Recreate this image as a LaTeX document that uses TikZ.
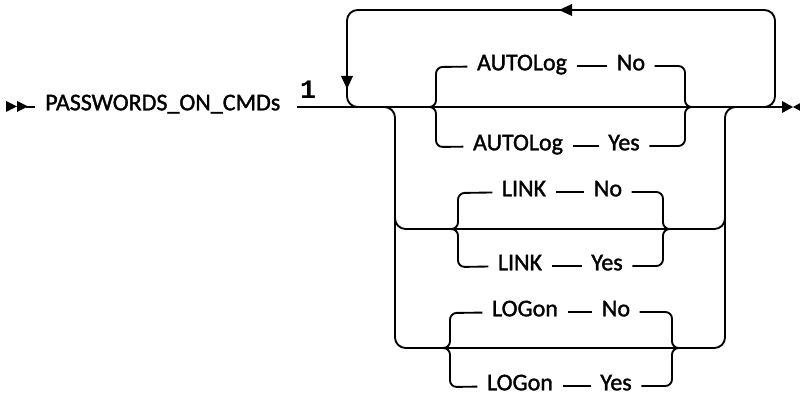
\documentclass[tikz,border=0pt]{standalone}
\usepackage{fontspec}
\setmainfont{Carlito}[RawFeature={embolden=1.4}]
\newfontfamily\monofnt{Liberation Mono}
\begin{document}
\begin{tikzpicture}[x=0.75pt,y=-0.75pt,
  ln/.style={line width=1.4pt},
  rr/.style={line width=1.4pt, rounded corners=5pt},
  rl/.style={line width=1.4pt, rounded corners=8pt},
  kw/.style={font=\fontsize{18}{21}\selectfont, inner xsep=7pt, inner ysep=0pt,
             text height=0.644em, text depth=0pt, anchor=center},
  arr/.style={fill=black}]
\useasboundingbox (0,0) rectangle (800,399);

% start marker and label
\fill (6,101) -- (17,106.5) -- (6,112) -- cycle;
\fill (17,101) -- (28,106.5) -- (17,112) -- cycle;
\draw[ln] (26,107) -- (35,107);
\node[kw, anchor=west, inner xsep=0pt] (lbl) at (45,106) {PASSWORDS\_ON\_CMDs};
\node[font=\fontsize{20}{22}\selectfont\monofnt\bfseries, inner sep=0pt] (one) at (308,90) {1};

% main line and end marker
\coordinate (mainS) at (297,107);
\coordinate (mainE) at (784,107);
\draw[ln] (mainS) -- (mainE);
\fill (782,101) -- (793,107) -- (782,113) -- cycle;
\fill (804,101) -- (793,107) -- (804,113) -- cycle;

% repeat loop
\draw[rl] (760,107) -| (775,10) -| (347,107) -- (362,107);
\fill (559,10) -- (572,4) -- (572,16) -- cycle;
\fill (347,89) -- (341,76) -- (353,76) -- cycle;

% outer choice
\draw[rl] (383,107) -| (395,348) -| (725,107) -- (737,107);
\draw[rl] (395,200) |- (560,229) -| (725,200);

% AUTOLog group
\node[kw] (a1) at (522,66) {AUTOLog};
\node[kw] (a2) at (631,66) {No};
\node[kw] (b1) at (518,146) {AUTOLog};
\node[kw] (b2) at (624,146) {Yes};
\draw[ln] (a1) -- (a2);
\draw[ln] (b1) -- (b2);
\draw[rr] (424,107) -| (436,67) -- (a1);
\draw[rr] (424,107) -| (436,147) -- (b1);
\draw[rr] (a2) -| (685,107) -- (697,107);
\draw[rr] (b2) -| (685,107) -- (697,107);

% LINK group
\node[kw] (c1) at (524,192) {LINK};
\node[kw] (c2) at (608,192) {No};
\node[kw] (d1) at (520,266) {LINK};
\node[kw] (d2) at (607,266) {Yes};
\draw[ln] (c1) -- (c2);
\draw[ln] (d1) -- (d2);
\draw[rr] (446,229) -| (458,193) -- (c1);
\draw[rr] (446,229) -| (458,267) -- (d1);
\draw[rr] (c2) -| (663,229) -- (675,229);
\draw[rr] (d2) -| (663,229) -- (675,229);

% LOGon group
\node[kw] (e1) at (525,312) {LOGon};
\node[kw] (e2) at (616,312) {No};
\node[kw] (f1) at (520,386) {LOGon};
\node[kw] (f2) at (616,386) {Yes};
\draw[ln] (e1) -- (e2);
\draw[ln] (f1) -- (f2);
\draw[rr] (438,348) -| (450,313) -- (e1);
\draw[rr] (438,348) -| (450,387) -- (f1);
\draw[rr] (e2) -| (672,348) -- (684,348);
\draw[rr] (f2) -| (672,348) -- (684,348);
\end{tikzpicture}
\end{document}
